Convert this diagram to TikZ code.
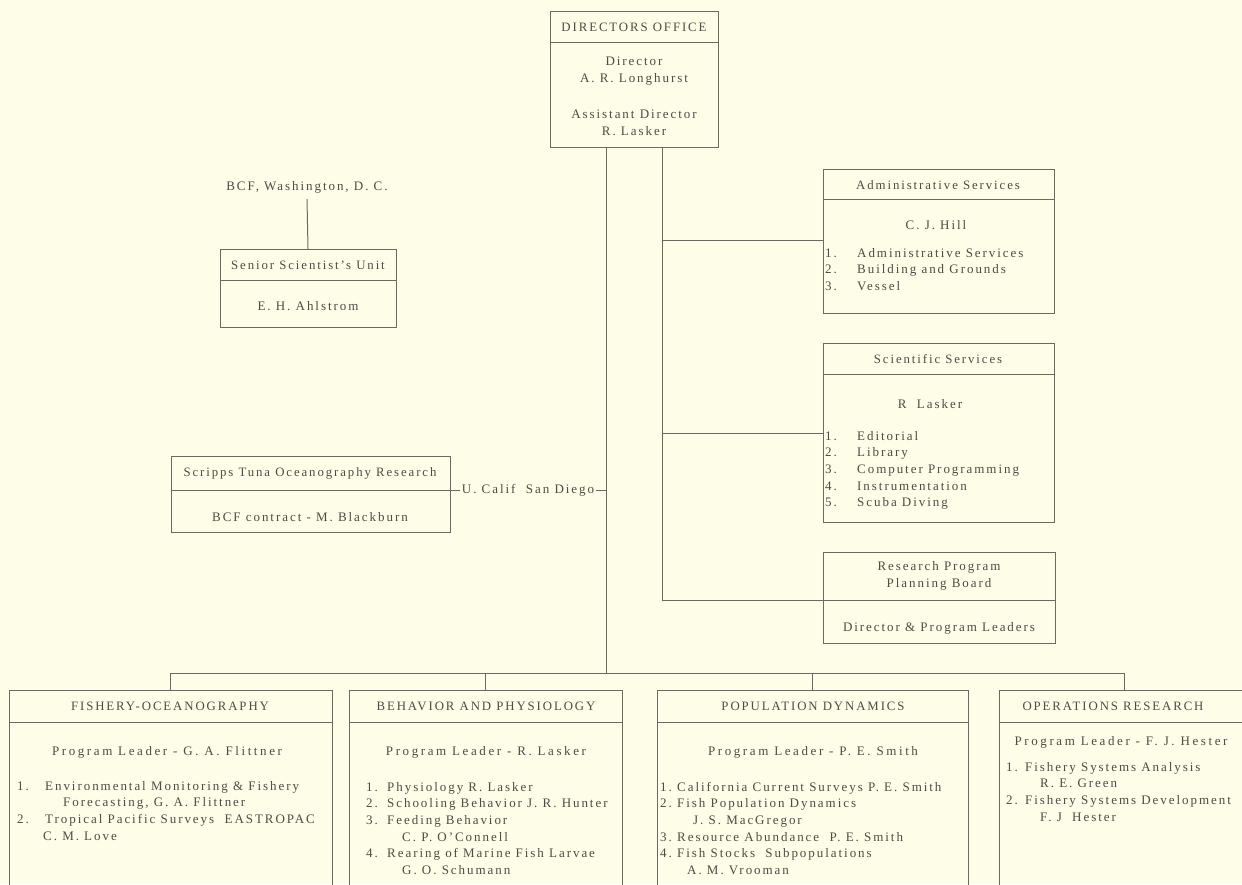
\documentclass[tikz,border=0pt]{standalone}
\usepackage{fontspec}
\setmainfont{Liberation Serif}[LetterSpace=15]
\definecolor{bg}{HTML}{FDFDE8}
\definecolor{ln}{HTML}{6A6A62}
\definecolor{tx}{HTML}{4C4C44}
\begin{document}
\begin{tikzpicture}[x=1pt,y=-1pt,
  box/.style={draw=ln, line width=1pt, outer sep=0pt, inner sep=0pt, anchor=north west},
  ttl/.style={text=tx, font=\fontsize{12.8}{16}\selectfont, inner sep=0pt},
  body/.style={text=tx, font=\fontsize{13}{16.6}\selectfont, inner sep=0pt, align=center},
  lead/.style={text=tx, font=\fontsize{13}{16.6}\selectfont\addfontfeature{LetterSpace=20}, inner sep=0pt},
  lst/.style={text=tx, font=\fontsize{13}{16.6}\selectfont, inner sep=0pt, align=left, anchor=north west},
  conn/.style={draw=ln, line width=1pt},
  divl/.style={draw=ln, line width=1pt},
]
\fill[bg] (0,0) rectangle (1242,884);
\useasboundingbox (0,0) rectangle (1242,884);

% ---------- boxes ----------
\node[box, minimum width=168pt, minimum height=136pt] (dir) at (550,11) {};
\node[box, minimum width=176pt, minimum height=78pt] (sen) at (220,249) {};
\node[box, minimum width=231pt, minimum height=144pt] (adm) at (823,169) {};
\node[box, minimum width=231pt, minimum height=179pt] (sci) at (823,343) {};
\node[box, minimum width=232pt, minimum height=91pt] (rpb) at (823,552) {};
\node[box, minimum width=279pt, minimum height=76pt] (scr) at (171,456) {};
\node[box, minimum width=323pt, minimum height=230pt] (fish) at (9,690) {};
\node[box, minimum width=273pt, minimum height=230pt] (beh) at (349,690) {};
\node[box, minimum width=311pt, minimum height=230pt] (pop) at (657,690) {};
\node[box, minimum width=260pt, minimum height=230pt] (ops) at (999,690) {};

% ---------- dividers ----------
\draw[divl] (550,42) -- (718,42);
\draw[divl] (220,280) -- (396,280);
\draw[divl] (823,199) -- (1054,199);
\draw[divl] (823,374) -- (1054,374);
\draw[divl] (823,600) -- (1055,600);
\draw[divl] (171,490) -- (450,490);
\draw[divl] (9,722) -- (332,722);
\draw[divl] (349,722) -- (622,722);
\draw[divl] (657,722) -- (968,722);
\draw[divl] (999,722) -- (1259,722);

% ---------- texts ----------
\node[ttl] (dirT) at (634,27) {DIRECTORS OFFICE};
\node[body] (dirN) at (634,71) {Director\\A. R. Longhurst};
\node[body] (dirA) at (634,123) {Assistant Director\\R. Lasker};

\node[body] (bcf) at (307,187) {BCF, Washington, D. C.};
\node[ttl] (senT) at (308,265) {Senior Scientist's Unit};
\node[body] (senN) at (308,306) {E. H. Ahlstrom};

\node[ttl] (admT) at (938,185) {Administrative Services};
\node[body] (admN) at (936,225) {C. J. Hill};
\node[lst] (admL) at (825,248) {\makebox[32pt][l]{1.}Administrative Services\\
\makebox[32pt][l]{2.}Building and Grounds\\
\makebox[32pt][l]{3.}Vessel};

\node[ttl] (sciT) at (938,359) {Scientific Services};
\node[body] (sciN) at (930,404) {R~ Lasker};
\node[lst] (sciL) at (825,431) {\makebox[32pt][l]{1.}Editorial\\
\makebox[32pt][l]{2.}Library\\
\makebox[32pt][l]{3.}Computer Programming\\
\makebox[32pt][l]{4.}Instrumentation\\
\makebox[32pt][l]{5.}Scuba Diving};

\node[body] (rpbT) at (939,576) {Research Program\\Planning Board};
\node[body] (rpbN) at (939,628) {Director \& Program Leaders};

\node[ttl] (scrT) at (310,473) {Scripps Tuna Oceanography Research};
\node[body] (scrN) at (310,517) {BCF contract - M. Blackburn};

\node[ttl] (fishT) at (170,706) {FISHERY-OCEANOGRAPHY};
\node[lead] (fishN) at (167,752) {Program Leader - G. A. Flittner};
\node[lst] (fishL) at (17,781) {\makebox[28pt][l]{1.}Environmental Monitoring \& Fishery\\
\hspace*{46pt}Forecasting, G. A. Flittner\\
\makebox[28pt][l]{2.}Tropical Pacific Surveys~ EASTROPAC\\
\hspace*{26pt}C. M. Love};

\node[ttl] (behT) at (486,706) {BEHAVIOR AND PHYSIOLOGY};
\node[lead] (behN) at (486,752) {Program Leader - R. Lasker};
\node[lst] (behL) at (366,782) {\makebox[21pt][l]{1.}Physiology R. Lasker\\
\makebox[21pt][l]{2.}Schooling Behavior J. R. Hunter\\
\makebox[21pt][l]{3.}Feeding Behavior\\
\hspace*{36pt}C. P. O'Connell\\
\makebox[21pt][l]{4.}Rearing of Marine Fish Larvae\\
\hspace*{36pt}G. O. Schumann};

\node[ttl] (popT) at (813,706) {POPULATION DYNAMICS};
\node[lead] (popN) at (813,752) {Program Leader - P. E. Smith};
\node[lst] (popL) at (660,782) {\makebox[17pt][l]{1.}California Current Surveys P. E. Smith\\
\makebox[17pt][l]{2.}Fish Population Dynamics\\
\hspace*{33pt}J. S. MacGregor\\
\makebox[17pt][l]{3.}Resource Abundance~ P. E. Smith\\
\makebox[17pt][l]{4.}Fish Stocks~ Subpopulations\\
\hspace*{27pt}A. M. Vrooman};

\node[ttl] (opsT) at (1113,706) {OPERATIONS RESEARCH};
\node[lead] (opsN) at (1121,742) {Program Leader - F. J. Hester};
\node[lst] (opsL) at (1006,762) {\makebox[19pt][l]{1.}Fishery Systems Analysis\\
\hspace*{34pt}R. E. Green\\
\makebox[19pt][l]{2.}Fishery Systems Development\\
\hspace*{34pt}F. J~ Hester};

% ---------- connector points ----------
\coordinate (aTop) at (606,147);
\coordinate (bTop) at (662,147);
\coordinate (busL) at (170,673);
\coordinate (busR) at (1124,673);
\coordinate (bAdm) at (662,240);
\coordinate (bSci) at (662,433);
\coordinate (bRpb) at (662,600);

% ---------- connectors ----------
\draw[conn] (aTop) -- (aTop |- busL);
\draw[conn] (bTop) -- (bRpb);
\draw[conn] (bAdm) -- (bAdm -| adm.west);
\draw[conn] (bSci) -- (bSci -| sci.west);
\draw[conn] (bRpb) -- (bRpb -| rpb.west);
\draw[conn] (busL) -- (busR);
\draw[conn] (busL) -- (busL |- fish.north);
\draw[conn] (beh.north |- busL) -- (beh.north);
\draw[conn] (pop.north |- busL) -- (pop.north);
\draw[conn] (busR) -- (busR |- ops.north);
\draw[conn] ([yshift=-6pt]bcf.south) -- (sen.north);
\draw[conn] ([yshift=4pt]scr.east) -- node[fill=bg, text=tx, font=\fontsize{13}{15}\selectfont, inner sep=1.5pt] (ucsd) {U. Calif~ San Diego} ([yshift=4pt]scr.east -| aTop);
\end{tikzpicture}
\end{document}
